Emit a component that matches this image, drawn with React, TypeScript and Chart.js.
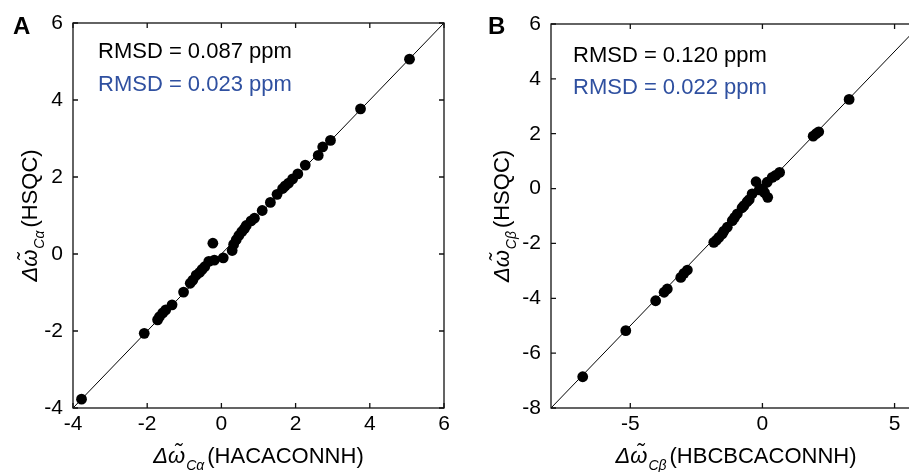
import React, { useEffect, useRef } from "react";
import { Chart, registerables } from "chart.js";

Chart.register(...registerables);

// ---------- data ----------
const aX = [5.07, 3.75, 2.94, 2.73, 2.61, 2.26, 2.06, 1.92, 1.81, 1.72, 1.65, 1.5, 1.32, 1.1, 0.89, 0.8, 0.67, 0.62, 0.55, 0.47, 0.4, 0.33, 0.29, -0.23, 0.05, -0.19, -0.34, -0.45, -0.52, -0.59, -0.68, -0.77, -0.84, -1.02, -1.33, -1.5, -1.58, -1.67, -1.72, -2.08, -3.77];
const aY = [5.06, 3.77, 2.95, 2.78, 2.56, 2.31, 2.08, 1.95, 1.84, 1.77, 1.7, 1.55, 1.34, 1.13, 0.93, 0.86, 0.74, 0.66, 0.58, 0.48, 0.37, 0.25, 0.09, 0.28, -0.1, -0.16, -0.19, -0.33, -0.4, -0.48, -0.55, -0.68, -0.76, -0.99, -1.32, -1.45, -1.53, -1.63, -1.71, -2.06, -3.77];

const bX = [3.28, 2.13, 2.03, 1.92, 0.65, 0.5, 0.37, 0.18, -0.24, 0.0, 0.08, 0.2, -0.12, -0.39, -0.5, -0.58, -0.7, -0.77, -0.95, -1.05, -1.14, -1.33, -1.46, -1.52, -1.65, -1.74, -1.84, -2.84, -2.97, -3.09, -3.6, -3.72, -4.04, -5.17, -6.8];
const bY = [3.25, 2.07, 2.0, 1.91, 0.59, 0.48, 0.41, 0.23, 0.25, 0.0, -0.15, -0.32, -0.05, -0.19, -0.4, -0.48, -0.62, -0.7, -0.92, -1.05, -1.17, -1.41, -1.55, -1.65, -1.78, -1.88, -1.96, -2.97, -3.09, -3.24, -3.66, -3.78, -4.09, -5.18, -6.86];

const aRange = [-4, 6];
const aXTicks = [-4, -2, 0, 2, 4, 6];
const aYTicks = [-4, -2, 0, 2, 4, 6];
const bXRange = [-8, 6];
const bYRange = [-8, 6];
const bXTicks = [-5, 0, 5];
const bYTicks = [-8, -6, -4, -2, 0, 2, 4, 6];

const aRmsd = ["RMSD = 0.087 ppm", "RMSD = 0.023 ppm"];
const bRmsd = ["RMSD = 0.120 ppm", "RMSD = 0.022 ppm"];

const FAM = "'Liberation Sans', Arial, Helvetica, sans-serif";
const BLUE = "#2f50a0";

type Part = { text: string; font: string; dy?: number; gap?: number };

function drawRich(ctx: CanvasRenderingContext2D, parts: Part[], x: number, y: number, rotate: boolean) {
  ctx.save();
  ctx.translate(x, y);
  if (rotate) ctx.rotate(-Math.PI / 2);
  ctx.textAlign = "left";
  ctx.textBaseline = "alphabetic";
  ctx.fillStyle = "#000";
  let w = 0;
  for (const p of parts) {
    ctx.font = p.font;
    w += ctx.measureText(p.text).width + (p.gap || 0);
  }
  let cx = -w / 2;
  for (const p of parts) {
    ctx.font = p.font;
    ctx.fillText(p.text, cx, p.dy || 0);
    cx += ctx.measureText(p.text).width + (p.gap || 0);
  }
  ctx.restore();
}

type PanelCfg = {
  xs: number[];
  ys: number[];
  xMin: number;
  xMax: number;
  yMin: number;
  yMax: number;
  xTicks: number[];
  yTicks: number[];
  yAxisWidth: number;
  padTop: number;
  padRight: number;
  xAxisHeight: number;
  letter: string;
  letterX: number;
  rmsd: string[];
  rmsdX: number;
  rmsdY: number[];
  sub: string;
  xTitle: string;
  yTitleX: number;
};

function makeChart(canvas: HTMLCanvasElement, c: PanelCfg) {
  const pts = c.xs.map((x, i) => ({ x, y: c.ys[i] }));
  const lo = Math.min(c.xMin, c.yMin);
  const hi = Math.max(c.xMax, c.yMax);
  const line = [
    { x: lo, y: lo },
    { x: hi, y: hi },
  ];
  const tickFont = { family: FAM, size: 21 };
  const deco = {
    id: "deco",
    afterDraw(chart: any) {
      const ctx = chart.ctx as CanvasRenderingContext2D;
      const a = chart.chartArea;
      const xs = chart.scales.x;
      const ys = chart.scales.y;
      ctx.save();
      ctx.strokeStyle = "#111";
      ctx.lineWidth = 1.3;
      ctx.strokeRect(a.left, a.top, a.right - a.left, a.bottom - a.top);
      const tl = 5;
      ctx.beginPath();
      for (const t of xs.ticks) {
        const px = xs.getPixelForValue(t.value);
        ctx.moveTo(px, a.bottom);
        ctx.lineTo(px, a.bottom - tl);
        ctx.moveTo(px, a.top);
        ctx.lineTo(px, a.top + tl);
      }
      for (const t of ys.ticks) {
        const py = ys.getPixelForValue(t.value);
        ctx.moveTo(a.left, py);
        ctx.lineTo(a.left + tl, py);
        ctx.moveTo(a.right, py);
        ctx.lineTo(a.right - tl, py);
      }
      ctx.stroke();
      // panel letter
      ctx.fillStyle = "#000";
      ctx.font = `bold 24px ${FAM}`;
      ctx.textAlign = "left";
      ctx.textBaseline = "alphabetic";
      ctx.fillText(c.letter, c.letterX, 34);
      // RMSD
      ctx.font = `22px ${FAM}`;
      ctx.fillStyle = "#000";
      ctx.fillText(c.rmsd[0], c.rmsdX, c.rmsdY[0]);
      ctx.fillStyle = BLUE;
      ctx.fillText(c.rmsd[1], c.rmsdX, c.rmsdY[1]);
      ctx.restore();
      // axis titles
      const big = `italic 22px ${FAM}`;
      const subF = `italic 14px ${FAM}`;
      const reg = `22px ${FAM}`;
      const cxm = (a.left + a.right) / 2;
      const cym = (a.top + a.bottom) / 2;
      drawRich(
        ctx,
        [
          { text: "\u0394\u03c9\u0303", font: big, gap: 1 },
          { text: c.sub, font: subF, dy: 7, gap: 3 },
          { text: "(" + c.xTitle + ")", font: reg },
        ],
        cxm,
        463,
        false
      );
      drawRich(
        ctx,
        [
          { text: "\u0394\u03c9\u0303", font: big, gap: 1 },
          { text: c.sub, font: subF, dy: 7, gap: 3 },
          { text: "(HSQC)", font: reg },
        ],
        c.yTitleX,
        cym,
        true
      );
    },
  };
  return new Chart(canvas, {
    type: "scatter",
    data: {
      datasets: [
        {
          data: line,
          showLine: true,
          borderColor: "#000",
          borderWidth: 1,
          pointRadius: 0,
          order: 2,
        } as any,
        {
          data: pts,
          backgroundColor: "#000",
          borderColor: "#000",
          borderWidth: 0,
          pointRadius: 5.4,
          order: 1,
        } as any,
      ],
    },
    options: {
      responsive: false,
      animation: false,
      events: [],
      layout: { padding: { left: 0, top: c.padTop, right: c.padRight, bottom: 0 } },
      plugins: { legend: { display: false }, tooltip: { enabled: false } },
      scales: {
        x: {
          type: "linear",
          min: c.xMin,
          max: c.xMax,
          afterBuildTicks: (s: any) => {
            s.ticks = c.xTicks.map((v) => ({ value: v }));
          },
          ticks: { font: tickFont, color: "#000", padding: 4, maxRotation: 0, autoSkip: false },
          grid: { display: false, drawTicks: false },
          border: { display: false },
          afterFit: (s: any) => {
            s.height = c.xAxisHeight;
          },
        },
        y: {
          type: "linear",
          min: c.yMin,
          max: c.yMax,
          afterBuildTicks: (s: any) => {
            s.ticks = c.yTicks.map((v) => ({ value: v }));
          },
          ticks: { font: tickFont, color: "#000", padding: 10, autoSkip: false },
          grid: { display: false, drawTicks: false },
          border: { display: false },
          afterFit: (s: any) => {
            s.width = c.yAxisWidth;
          },
        },
      },
    },
    plugins: [deco],
  } as any);
}

export default function App() {
  const refA = useRef<HTMLCanvasElement>(null);
  const refB = useRef<HTMLCanvasElement>(null);
  useEffect(() => {
    const ca = makeChart(refA.current!, {
      xs: aX,
      ys: aY,
      xMin: aRange[0],
      xMax: aRange[1],
      yMin: aRange[0],
      yMax: aRange[1],
      xTicks: aXTicks,
      yTicks: aYTicks,
      yAxisWidth: 73,
      padTop: 23,
      padRight: 16,
      xAxisHeight: 64,
      letter: "A",
      letterX: 13,
      rmsd: aRmsd,
      rmsdX: 98,
      rmsdY: [58, 91],
      sub: "C\u03b1",
      xTitle: "HACACONNH",
      yTitleX: 37,
    });
    const cb = makeChart(refB.current!, {
      xs: bX,
      ys: bY,
      xMin: bXRange[0],
      xMax: bXRange[1],
      yMin: bYRange[0],
      yMax: bYRange[1],
      xTicks: bXTicks,
      yTicks: bYTicks,
      yAxisWidth: 91,
      padTop: 24,
      padRight: 19,
      xAxisHeight: 64,
      letter: "B",
      letterX: 28,
      rmsd: bRmsd,
      rmsdX: 113,
      rmsdY: [62, 94],
      sub: "C\u03b2",
      xTitle: "HBCBCACONNH",
      yTitleX: 49,
    });
    return () => {
      ca.destroy();
      cb.destroy();
    };
  }, []);
  return (
    <div
      style={{
        position: "absolute",
        left: 0,
        top: 0,
        width: 909,
        height: 472,
        overflow: "hidden",
        background: "#fff",
      }}
    >
      <canvas ref={refA} width={460} height={472} style={{ position: "absolute", left: 0, top: 0 }} />
      <canvas ref={refB} width={480} height={472} style={{ position: "absolute", left: 460, top: 0 }} />
    </div>
  );
}
